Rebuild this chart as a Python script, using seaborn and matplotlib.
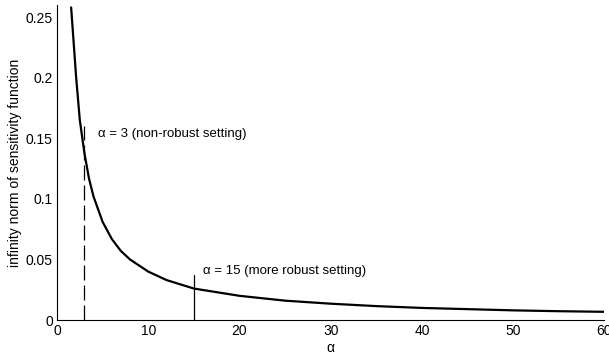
import matplotlib
matplotlib.use("Agg")
import matplotlib.pyplot as plt
import seaborn as sns
import pandas as pd

# values
alpha = [1.55, 2.1, 2.5, 3, 3.5, 4, 5, 6, 7, 8, 10, 12, 15, 20, 25, 30, 35, 40, 45, 50, 55, 60]
inf_norm = [0.258, 0.2, 0.165, 0.138, 0.117, 0.102, 0.081, 0.067, 0.057, 0.050, 0.040,
            0.033, 0.026, 0.020, 0.016, 0.0135, 0.0115, 0.010, 0.009, 0.008, 0.0073, 0.0068]
df = pd.DataFrame({"alpha": alpha, "norm": inf_norm})

sns.set_style("white")
plt.rcParams["font.family"] = ["Liberation Sans", "DejaVu Sans"]
plt.rcParams["text.color"] = "black"
plt.rcParams["axes.labelcolor"] = "black"
plt.rcParams["xtick.direction"] = "in"
plt.rcParams["ytick.direction"] = "in"

fig = plt.figure(figsize=(6.09, 3.58), dpi=100)
ax = fig.add_axes([0.0936, 0.106, 0.899, 0.88])

sns.lineplot(data=df, x="alpha", y="norm", color="black", linewidth=1.6, ax=ax)

# marker lines for the two settings
ax.plot([3, 3], [0, 0.16], color="black", linestyle=(0, (12, 4)), linewidth=0.9)
ax.plot([15, 15], [0, 0.037], color="black", linewidth=0.9)
ax.text(4.5, 0.151, "\u03b1 = 3 (non-robust setting)", fontsize=9.5)
ax.text(16, 0.038, "\u03b1 = 15 (more robust setting)", fontsize=9.5)

ax.set_xlim(0, 60)
ax.set_ylim(0, 0.26)
ax.set_xticks([0, 10, 20, 30, 40, 50, 60])
ax.set_yticks([0, 0.05, 0.1, 0.15, 0.2, 0.25])
ax.set_yticklabels(["0", "0.05", "0.1", "0.15", "0.2", "0.25"])
ax.tick_params(labelsize=10, length=5, width=0.8, colors="black", pad=3)
ax.set_xlabel("\u03b1", fontsize=10, labelpad=2)
ax.set_ylabel("infinity norm of sensitivity function", fontsize=10, labelpad=3)
for s in ["top", "right"]:
    ax.spines[s].set_visible(False)
for s in ["left", "bottom"]:
    ax.spines[s].set_color("black")
    ax.spines[s].set_linewidth(0.8)

fig.savefig("out.png", dpi=100)
